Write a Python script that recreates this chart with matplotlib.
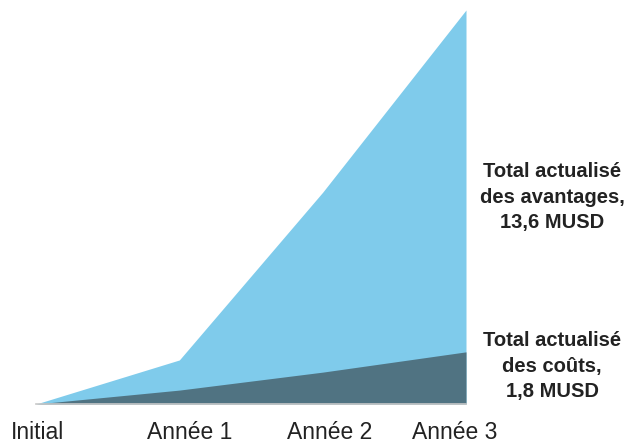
import numpy as np
import matplotlib.pyplot as plt

plt.rcParams['font.family'] = ['Liberation Sans', 'DejaVu Sans']

periods = ["Initial", "Année 1", "Année 2", "Année 3"]
benefits = [0, 1.52, 7.31, 13.6]   # MUSD, cumulative discounted
costs = [0, 0.48, 1.10, 1.8]

fig = plt.figure(figsize=(6.25, 4.44), dpi=100)
W, H = 625, 444
ax = fig.add_axes([36 / W, 40 / H, 430 / W, 394 / H])

x = np.arange(len(periods))
ax.fill_between(x, 0, benefits, color="#7fcbeb", lw=0)
ax.fill_between(x, 0, costs, color="#507382", lw=0)

ax.set_xlim(0, 3)
ax.set_ylim(0, 13.6)
for s in ["top", "right", "left"]:
    ax.spines[s].set_visible(False)
ax.spines["bottom"].set_color("#c8c8c8")
ax.spines["bottom"].set_linewidth(1.2)
ax.set_yticks([])

# labels are a bit off the data points in the original
label_offsets = [0.01, 0.07, 0.05, -0.08]
ax.set_xticks(x + np.array(label_offsets))
ax.set_xticklabels(periods, fontsize=16.5, color="#222222")
ax.tick_params(axis="x", length=0, pad=12.5)

fig.text(552 / W, 1 - 197 / H, "Total actualisé\ndes avantages,\n13,6 MUSD",
         ha="center", va="center", fontsize=14.5, fontweight="bold",
         linespacing=1.45, color="#222222")
fig.text(552 / W, 1 - 366 / H, "Total actualisé\ndes coûts,\n1,8 MUSD",
         ha="center", va="center", fontsize=14.5, fontweight="bold",
         linespacing=1.45, color="#222222")

fig.savefig("out.png", dpi=100)
